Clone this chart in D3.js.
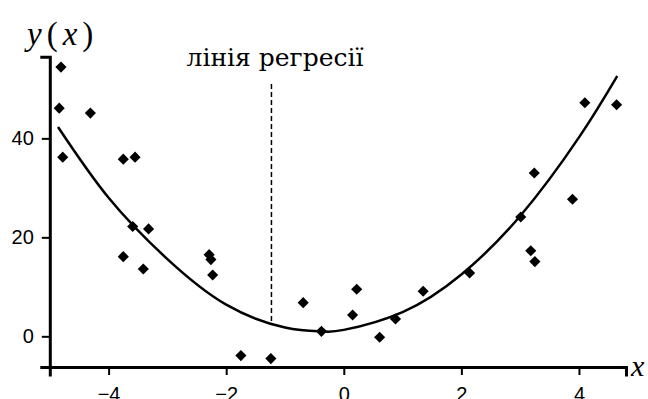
<!DOCTYPE html>
<html>
<head>
<meta charset="utf-8">
<script src="https://cdn.jsdelivr.net/npm/d3@7"></script>
<style>
  body { margin: 0; background: #fff; }
  svg { display: block; }
</style>
</head>
<body>
<svg id="chart" width="648" height="399"></svg>
<script>
// scatter points
const pointX = [-4.81, -4.84, -4.31, -4.78, -3.75, -3.55, -3.59, -3.32, -3.75, -3.41,
                -2.29, -2.26, -2.23, -1.75, -1.24, -0.69, -0.38, 0.22, 0.15, 0.61,
                0.88, 1.35, 2.14, 3.01, 3.24, 3.89, 3.18, 3.25, 4.10, 4.64];
const pointY = [54.4, 46.1, 45.1, 36.2, 35.8, 36.2, 22.2, 21.7, 16.1, 13.6,
                16.5, 15.5, 12.4, -3.9, -4.5, 6.8, 1.0, 9.5, 4.3, -0.2,
                3.5, 9.1, 12.8, 24.1, 33.0, 27.7, 17.3, 15.1, 47.2, 46.8];

// regression curve
const curveX = [-4.86, -4, -3, -2, -1, -0.37, 0, 1, 2, 3, 4, 4.65];
const curveY = [42.3, 28.0, 15.6, 6.4, 1.8, 1.0, 1.3, 4.9, 12.5, 24.3, 40.2, 52.6];

const xTicks = [-4, -2, 0, 2, 4];
const yTicks = [0, 20, 40];

const markerX = -1.23;   // dashed "лінія регресії" marker
const markerTop = 51;    // value where the dashed line starts
const markerLabel = "лінія регресії";

const svg = d3.select("#chart");

const x = d3.scaleLinear().domain([-5, 4.8]).range([49.8, 626]);
const y = d3.scaleLinear().domain([-6.2, 56.5]).range([367, 56.7]);

// axes
const xAxis = svg.append("g")
    .attr("transform", `translate(0,${y(-6.2)})`)
    .call(d3.axisBottom(x).tickValues(xTicks).tickSizeOuter(0).tickSize(8).tickPadding(12));

const yAxis = svg.append("g")
    .attr("transform", `translate(${x(-5)},0)`)
    .call(d3.axisLeft(y).tickValues(yTicks).tickSizeOuter(0).tickSize(8).tickPadding(8));

[xAxis, yAxis].forEach(g => {
    g.select(".domain")
        .attr("stroke", "#000")
        .attr("stroke-width", 3)
        .attr("stroke-linecap", "square");
    g.selectAll(".tick line").attr("stroke", "#000").attr("stroke-width", 2);
    g.selectAll(".tick text")
        .attr("fill", "#000")
        .style("font-family", "'Liberation Sans', Arial, sans-serif")
        .style("font-size", "20px");
});

// regression curve
const line = d3.line()
    .x((d, i) => x(curveX[i]))
    .y(d => y(d))
    .curve(d3.curveNatural);

svg.append("path")
    .datum(curveY)
    .attr("d", line)
    .attr("fill", "none")
    .attr("stroke", "#000")
    .attr("stroke-width", 2.5);

// dashed marker line down to the curve
const curveAt = d3.scaleLinear().domain(curveX).range(curveY);
svg.append("line")
    .attr("x1", x(markerX))
    .attr("x2", x(markerX))
    .attr("y1", y(markerTop))
    .attr("y2", y(curveAt(markerX)))
    .attr("stroke", "#000")
    .attr("stroke-width", 1.5)
    .attr("stroke-dasharray", "5,3");

svg.append("text")
    .attr("x", 275)
    .attr("y", 66)
    .attr("text-anchor", "middle")
    .style("font-family", "'DejaVu Serif', serif")
    .style("font-size", "25px")
    .text(markerLabel);

// points
svg.append("g")
    .selectAll("path")
    .data(pointX)
    .join("path")
    .attr("d", d3.symbol().type(d3.symbolSquare).size(62))
    .attr("transform", (d, i) => `translate(${x(d)},${y(pointY[i])}) rotate(45)`)
    .attr("fill", "#000");

// axis titles
const yTitle = svg.append("text")
    .attr("x", 27)
    .attr("y", 45)
    .style("font-family", "'Liberation Serif', 'Times New Roman', serif")
    .style("font-size", "33px");
yTitle.append("tspan").style("font-style", "italic").text("y");
yTitle.append("tspan").attr("dx", 5).text("(");
yTitle.append("tspan").attr("dx", 5).style("font-style", "italic").text("x");
yTitle.append("tspan").attr("dx", 5).text(")");

svg.append("text")
    .attr("x", 631)
    .attr("y", 376)
    .style("font-family", "'Liberation Serif', 'Times New Roman', serif")
    .style("font-size", "30px")
    .style("font-style", "italic")
    .text("x");
</script>
</body>
</html>
